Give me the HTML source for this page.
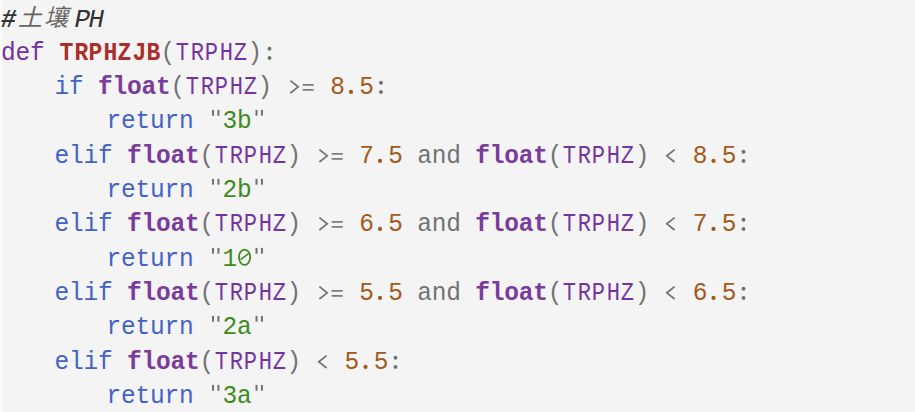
<!DOCTYPE html>
<html><head><meta charset="utf-8">
<style>
html,body{margin:0;padding:0;background:#f4f4f4;width:915px;height:412px;overflow:hidden;position:relative}
.l{position:absolute;white-space:pre;font-family:"Liberation Mono",monospace;font-size:24.5px;letter-spacing:-0.2px;line-height:34.3px;color:#727272}
.c{color:#333;font-style:italic}
.hs{font-size:25.5px;letter-spacing:-0.8px;font-weight:bold}
.ph{font-size:26px;letter-spacing:-1.6px;margin-left:1px}
.z{display:inline-block;color:#666;width:29px;font-family:"Liberation Serif",serif;font-size:24px;letter-spacing:0;text-align:center;font-weight:300;line-height:0;position:relative;top:-1px}
.k{color:#4462c6}
.d{color:#7232a0}
.f{color:#aa2e2c;font-weight:bold}
.nx{display:inline-block;width:14.5px;text-align:center;letter-spacing:0;transform:scaleX(0.94)}
.nv{display:inline-block;width:14.5px;text-align:center;letter-spacing:0;transform:scaleX(0.9)}
.v{color:#7434a0}
.b{color:#7a3c9c;font-weight:bold}
.n{color:#a25a1a}
.s{color:#3e8a1d}
.t{color:transparent}
.o{color:#727272}
</style></head><body>
<div style="position:absolute;left:0;top:0;width:2px;height:412px;background:#fbfbfb"></div>
<div class="l" style="left:1px;top:3px"><span class="c"><span class="hs">#</span><span class="z" lang="zh-CN">土</span><span class="z" lang="zh-CN" style="margin-left:-3px;margin-right:3px">壤</span><span class="ph">PH</span></span></div>
<div class="l" style="left:1px;top:37px;transform:scaleY(1.05);transform-origin:0 23px"><span class="d">def</span> <span class="f"><span class="nx">T</span><span class="nx">R</span><span class="nx">P</span><span class="nx">H</span><span class="nx">Z</span><span class="nx">J</span><span class="nx">B</span></span>(<span class="v"><span class="nv">T</span><span class="nv">R</span><span class="nv">P</span><span class="nv">H</span><span class="nv">Z</span></span>)<span class="t">:</span></div>
<div class="l" style="left:54.5px;top:71px;transform:scaleY(1.05);transform-origin:0 23px"><span class="k">if</span> <span class="b">float</span>(<span class="v"><span class="nv">T</span><span class="nv">R</span><span class="nv">P</span><span class="nv">H</span><span class="nv">Z</span></span>) <span class="t">&gt;</span><span class="t">=</span> <span class="n">8<span class="t">.</span>5</span><span class="t">:</span></div>
<div class="l" style="left:106.5px;top:105px;transform:scaleY(1.05);transform-origin:0 23px"><span class="k">return</span> <span class="t">&quot;</span><span class="s">3b</span><span class="t">&quot;</span></div>
<div class="l" style="left:54.5px;top:140px;transform:scaleY(1.05);transform-origin:0 23px"><span class="k">elif</span> <span class="b">float</span>(<span class="v"><span class="nv">T</span><span class="nv">R</span><span class="nv">P</span><span class="nv">H</span><span class="nv">Z</span></span>) <span class="t">&gt;</span><span class="t">=</span> <span class="n">7<span class="t">.</span>5</span> <span class="o">and</span> <span class="b">float</span>(<span class="v"><span class="nv">T</span><span class="nv">R</span><span class="nv">P</span><span class="nv">H</span><span class="nv">Z</span></span>) <span class="t">&lt;</span> <span class="n">8<span class="t">.</span>5</span><span class="t">:</span></div>
<div class="l" style="left:106.5px;top:174px;transform:scaleY(1.05);transform-origin:0 23px"><span class="k">return</span> <span class="t">&quot;</span><span class="s">2b</span><span class="t">&quot;</span></div>
<div class="l" style="left:54.5px;top:208px;transform:scaleY(1.05);transform-origin:0 23px"><span class="k">elif</span> <span class="b">float</span>(<span class="v"><span class="nv">T</span><span class="nv">R</span><span class="nv">P</span><span class="nv">H</span><span class="nv">Z</span></span>) <span class="t">&gt;</span><span class="t">=</span> <span class="n">6<span class="t">.</span>5</span> <span class="o">and</span> <span class="b">float</span>(<span class="v"><span class="nv">T</span><span class="nv">R</span><span class="nv">P</span><span class="nv">H</span><span class="nv">Z</span></span>) <span class="t">&lt;</span> <span class="n">7<span class="t">.</span>5</span><span class="t">:</span></div>
<div class="l" style="left:106.5px;top:243px;transform:scaleY(1.05);transform-origin:0 23px"><span class="k">return</span> <span class="t">&quot;</span><span class="s">1<span class="t">0</span></span><span class="t">&quot;</span></div>
<div class="l" style="left:54.5px;top:277px;transform:scaleY(1.05);transform-origin:0 23px"><span class="k">elif</span> <span class="b">float</span>(<span class="v"><span class="nv">T</span><span class="nv">R</span><span class="nv">P</span><span class="nv">H</span><span class="nv">Z</span></span>) <span class="t">&gt;</span><span class="t">=</span> <span class="n">5<span class="t">.</span>5</span> <span class="o">and</span> <span class="b">float</span>(<span class="v"><span class="nv">T</span><span class="nv">R</span><span class="nv">P</span><span class="nv">H</span><span class="nv">Z</span></span>) <span class="t">&lt;</span> <span class="n">6<span class="t">.</span>5</span><span class="t">:</span></div>
<div class="l" style="left:106.5px;top:311px;transform:scaleY(1.05);transform-origin:0 23px"><span class="k">return</span> <span class="t">&quot;</span><span class="s">2a</span><span class="t">&quot;</span></div>
<div class="l" style="left:54.5px;top:346px;transform:scaleY(1.05);transform-origin:0 23px"><span class="k">elif</span> <span class="b">float</span>(<span class="v"><span class="nv">T</span><span class="nv">R</span><span class="nv">P</span><span class="nv">H</span><span class="nv">Z</span></span>) <span class="t">&lt;</span> <span class="n">5<span class="t">.</span>5</span><span class="t">:</span></div>
<div class="l" style="left:106.5px;top:380px;transform:scaleY(1.05);transform-origin:0 23px"><span class="k">return</span> <span class="t">&quot;</span><span class="s">3a</span><span class="t">&quot;</span></div>
<svg width="915" height="412" style="position:absolute;left:0;top:0">
<circle cx="269.50" cy="57.90" r="1.95" fill="#6c7078"/><circle cx="269.50" cy="48.70" r="1.95" fill="#6c7078"/>
<polyline points="290.40,80.70 298.20,86.85 290.40,93.00" fill="none" stroke="#6c7078" stroke-width="1.7"/>
<rect x="302.60" y="84.10" width="11.1" height="1.6" fill="#727272"/><rect x="302.60" y="89.10" width="11.1" height="1.6" fill="#727272"/>
<circle cx="351.00" cy="91.90" r="2.1" fill="#a25a1a"/>
<circle cx="381.00" cy="91.90" r="1.95" fill="#6c7078"/><circle cx="381.00" cy="82.70" r="1.95" fill="#6c7078"/>
<rect x="212.00" y="109.90" width="2.05" height="5.8" fill="#727272"/><rect x="217.40" y="109.90" width="2.05" height="5.8" fill="#727272"/>
<rect x="255.50" y="109.90" width="2.05" height="5.8" fill="#727272"/><rect x="260.90" y="109.90" width="2.05" height="5.8" fill="#727272"/>
<polyline points="319.40,149.70 327.20,155.85 319.40,162.00" fill="none" stroke="#6c7078" stroke-width="1.7"/>
<rect x="331.60" y="153.10" width="11.1" height="1.6" fill="#727272"/><rect x="331.60" y="158.10" width="11.1" height="1.6" fill="#727272"/>
<circle cx="380.00" cy="160.90" r="2.1" fill="#a25a1a"/>
<polyline points="674.60,149.70 666.80,155.85 674.60,162.00" fill="none" stroke="#6c7078" stroke-width="1.7"/>
<circle cx="713.50" cy="160.90" r="2.1" fill="#a25a1a"/>
<circle cx="743.50" cy="160.90" r="1.95" fill="#6c7078"/><circle cx="743.50" cy="151.70" r="1.95" fill="#6c7078"/>
<rect x="212.00" y="178.90" width="2.05" height="5.8" fill="#727272"/><rect x="217.40" y="178.90" width="2.05" height="5.8" fill="#727272"/>
<rect x="255.50" y="178.90" width="2.05" height="5.8" fill="#727272"/><rect x="260.90" y="178.90" width="2.05" height="5.8" fill="#727272"/>
<polyline points="319.40,217.70 327.20,223.85 319.40,230.00" fill="none" stroke="#6c7078" stroke-width="1.7"/>
<rect x="331.60" y="221.10" width="11.1" height="1.6" fill="#727272"/><rect x="331.60" y="226.10" width="11.1" height="1.6" fill="#727272"/>
<circle cx="380.00" cy="228.90" r="2.1" fill="#a25a1a"/>
<polyline points="674.60,217.70 666.80,223.85 674.60,230.00" fill="none" stroke="#6c7078" stroke-width="1.7"/>
<circle cx="713.50" cy="228.90" r="2.1" fill="#a25a1a"/>
<circle cx="743.50" cy="228.90" r="1.95" fill="#6c7078"/><circle cx="743.50" cy="219.70" r="1.95" fill="#6c7078"/>
<rect x="212.00" y="247.90" width="2.05" height="5.8" fill="#727272"/><rect x="217.40" y="247.90" width="2.05" height="5.8" fill="#727272"/>
<ellipse cx="244.55" cy="257.25" rx="5.6" ry="7.7" fill="none" stroke="#3e8a1d" stroke-width="1.8"/><line x1="240.60" y1="259.70" x2="248.50" y2="253.70" stroke="#3e8a1d" stroke-width="1.6"/>
<rect x="255.50" y="247.90" width="2.05" height="5.8" fill="#727272"/><rect x="260.90" y="247.90" width="2.05" height="5.8" fill="#727272"/>
<polyline points="319.40,286.70 327.20,292.85 319.40,299.00" fill="none" stroke="#6c7078" stroke-width="1.7"/>
<rect x="331.60" y="290.10" width="11.1" height="1.6" fill="#727272"/><rect x="331.60" y="295.10" width="11.1" height="1.6" fill="#727272"/>
<circle cx="380.00" cy="297.90" r="2.1" fill="#a25a1a"/>
<polyline points="674.60,286.70 666.80,292.85 674.60,299.00" fill="none" stroke="#6c7078" stroke-width="1.7"/>
<circle cx="713.50" cy="297.90" r="2.1" fill="#a25a1a"/>
<circle cx="743.50" cy="297.90" r="1.95" fill="#6c7078"/><circle cx="743.50" cy="288.70" r="1.95" fill="#6c7078"/>
<rect x="212.00" y="315.90" width="2.05" height="5.8" fill="#727272"/><rect x="217.40" y="315.90" width="2.05" height="5.8" fill="#727272"/>
<rect x="255.50" y="315.90" width="2.05" height="5.8" fill="#727272"/><rect x="260.90" y="315.90" width="2.05" height="5.8" fill="#727272"/>
<polyline points="326.60,355.70 318.80,361.85 326.60,368.00" fill="none" stroke="#6c7078" stroke-width="1.7"/>
<circle cx="365.50" cy="366.90" r="2.1" fill="#a25a1a"/>
<circle cx="395.50" cy="366.90" r="1.95" fill="#6c7078"/><circle cx="395.50" cy="357.70" r="1.95" fill="#6c7078"/>
<rect x="212.00" y="384.90" width="2.05" height="5.8" fill="#727272"/><rect x="217.40" y="384.90" width="2.05" height="5.8" fill="#727272"/>
<rect x="255.50" y="384.90" width="2.05" height="5.8" fill="#727272"/><rect x="260.90" y="384.90" width="2.05" height="5.8" fill="#727272"/>
</svg>
</body></html>
